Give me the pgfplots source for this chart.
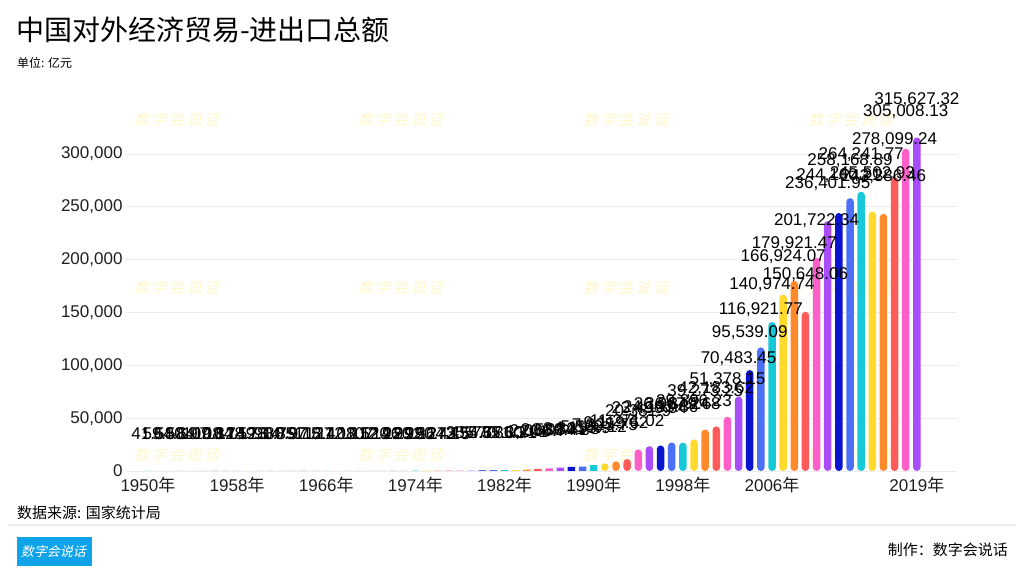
\documentclass[border=0pt]{standalone}
\usepackage{fontspec}
\usepackage{pgfplots}
\usepackage{pgfplotstable}
\pgfplotsset{compat=1.18}
\setmainfont{Liberation Sans}
\newfontfamily\cjk{Noto Sans CJK SC}
\definecolor{cA}{HTML}{16C9D9}
\definecolor{cB}{HTML}{FFD92B}
\definecolor{cC}{HTML}{FF8A2B}
\definecolor{cD}{HTML}{FF5B5B}
\definecolor{cE}{HTML}{FF5FC8}
\definecolor{cF}{HTML}{A94CFB}
\definecolor{cG}{HTML}{0A14CC}
\definecolor{cH}{HTML}{4B6FF5}
\definecolor{wm}{HTML}{FFF7C8}
\definecolor{logo}{HTML}{0FA3EA}
\definecolor{gridc}{HTML}{ECECEC}
\newcommand\nian{{\cjk 年}}
\newcommand\fs[1]{\fontsize{#1bp}{#1bp}\selectfont}

\pgfplotstableread{
year value label
1950 41.5 41.5
1958 128.7 128.7
1966 127.1 127.1
1974 292.2 292.2
1982 771.3 771.3
1990 5560.12 5,560.12
1998 26849.68 26,849.68
2006 140974.74 140,974.74
2014 264241.77 264,241.77
}\tA
\pgfplotstableread{
year value label
1951 59.5 59.5
1959 149.3 149.3
1967 112.2 112.2
1975 290.4 290.4
1983 860.1 860.1
1991 7225.75 7,225.75
1999 29896.23 29,896.23
2007 166924.07 166,924.07
2015 245502.93 245,502.93
}\tB
\pgfplotstableread{
year value label
1952 64.6 64.6
1960 128.4 128.4
1968 108.5 108.5
1976 264.1 264.1
1984 1201.0 1,201
1992 9119.62 9,119.62
2000 39273.25 39,273.25
2008 179921.47 179,921.47
2016 243386.46 243,386.46
}\tC
\pgfplotstableread{
year value label
1953 80.9 80.9
1961 90.7 90.7
1969 107.0 107
1977 272.5 272.5
1985 2066.7 2,066.7
1993 11271.02 11,271.02
2001 42183.62 42,183.62
2009 150648.06 150,648.06
2017 278099.24 278,099.24
}\tD
\pgfplotstableread{
year value label
1954 84.7 84.7
1962 80.9 80.9
1970 112.9 112.9
1978 355.0 355
1986 2580.4 2,580.4
1994 20381.9 20,381.9
2002 51378.15 51,378.15
2010 201722.34 201,722.34
2018 305008.13 305,008.13
}\tE
\pgfplotstableread{
year value label
1955 109.8 109.8
1963 85.7 85.7
1971 120.9 120.9
1979 454.6 454.6
1987 3084.2 3,084.2
1995 23499.94 23,499.94
2003 70483.45 70,483.45
2011 236401.95 236,401.95
2019 315627.32 315,627.32
}\tF
\pgfplotstableread{
year value label
1956 108.7 108.7
1964 97.5 97.5
1972 146.9 146.9
1980 570.0 570
1988 3821.8 3,821.8
1996 24133.86 24,133.86
2004 95539.09 95,539.09
2012 244160.21 244,160.21
}\tG
\pgfplotstableread{
year value label
1957 104.5 104.5
1965 118.4 118.4
1973 220.5 220.5
1981 735.3 735.3
1989 4155.9 4,155.9
1997 26967.24 26,967.24
2005 116921.77 116,921.77
2013 258168.89 258,168.89
}\tH

\pgfplotsset{
  bigbar/.style={ybar, bar width=7.5bp, fill=#1, draw=none, rounded corners=3.7bp, restrict y to domain=7100:400000},
  smallbar/.style={ybar, bar width=7.5bp, fill=#1, draw=none, restrict y to domain=0:7100},
}

\begin{document}
\begin{tikzpicture}
\path[use as bounding box] (0bp,0bp) rectangle (1024bp,576bp);
% watermarks
\foreach \wx in {178,402,627,852}{
  \foreach \wy in {456,288,121}{
    \node[text=wm, font=\cjk\fs{15}, xslant=0.25, inner sep=0] at (\wx bp,\wy bp) {数\,字\,会\,说\,话};
  }
}
\begin{axis}[
  at={(126bp,105bp)}, anchor=south west,
  scale only axis, width=831bp, height=369.83bp,
  xmin=1948.03, xmax=2022.6, ymin=0, ymax=350000,
  axis line style={draw=none},
  ymajorgrids, grid style={gridc, line width=0.8bp},
  xtick={1950,1958,1966,1974,1982,1990,1998,2006,2019},
  xticklabels={1950\nian,1958\nian,1966\nian,1974\nian,1982\nian,1990\nian,1998\nian,2006\nian,2019\nian},
  ytick={0,50000,100000,150000,200000,250000,300000},
  yticklabels={0,{50,000},{100,000},{150,000},{200,000},{250,000},{300,000}},
  scaled y ticks=false,
  ticklabel style={font=\fs{17}, text=black!88},
  xticklabel style={yshift=-3bp},
  major tick length=0pt,
  clip=false,
  point meta=explicit symbolic,
  nodes near coords,
  every node near coord/.style={anchor=center, yshift=37.5bp, font=\fs{17}, text=black, inner sep=0},
]
\addplot[smallbar=cA] table[x=year, y=value, meta=label] {\tA};
\addplot[smallbar=cB] table[x=year, y=value, meta=label] {\tB};
\addplot[smallbar=cC] table[x=year, y=value, meta=label] {\tC};
\addplot[smallbar=cD] table[x=year, y=value, meta=label] {\tD};
\addplot[smallbar=cE] table[x=year, y=value, meta=label] {\tE};
\addplot[smallbar=cF] table[x=year, y=value, meta=label] {\tF};
\addplot[smallbar=cG] table[x=year, y=value, meta=label] {\tG};
\addplot[smallbar=cH] table[x=year, y=value, meta=label] {\tH};
\addplot[bigbar=cA] table[x=year, y=value, meta=label] {\tA};
\addplot[bigbar=cB] table[x=year, y=value, meta=label] {\tB};
\addplot[bigbar=cC] table[x=year, y=value, meta=label] {\tC};
\addplot[bigbar=cD] table[x=year, y=value, meta=label] {\tD};
\addplot[bigbar=cE] table[x=year, y=value, meta=label] {\tE};
\addplot[bigbar=cF] table[x=year, y=value, meta=label] {\tF};
\addplot[bigbar=cG] table[x=year, y=value, meta=label] {\tG};
\addplot[bigbar=cH] table[x=year, y=value, meta=label] {\tH};
\end{axis}
% titles
\node[anchor=west, font=\cjk\fs{28}, inner sep=0] at (16bp,546bp) {中国对外经济贸易-进出口总额};
\node[anchor=west, font=\cjk\fs{12}, inner sep=0] at (17bp,513bp) {单位: 亿元};
\node[anchor=west, font=\cjk\fs{15}, inner sep=0] at (17bp,63bp) {数据来源: 国家统计局};
\draw[gridc, line width=2bp] (8bp,51bp) -- (1016bp,51bp);
\fill[logo] (17bp,10bp) rectangle (92bp,39bp);
\node[text=white, font=\cjk\fs{13}, xslant=0.25, inner sep=0] at (54.5bp,24.5bp) {数字会说话};
\node[anchor=east, font=\cjk\fs{15}, inner sep=0] at (1008bp,26bp) {制作：数字会说话};
\end{tikzpicture}
\end{document}
